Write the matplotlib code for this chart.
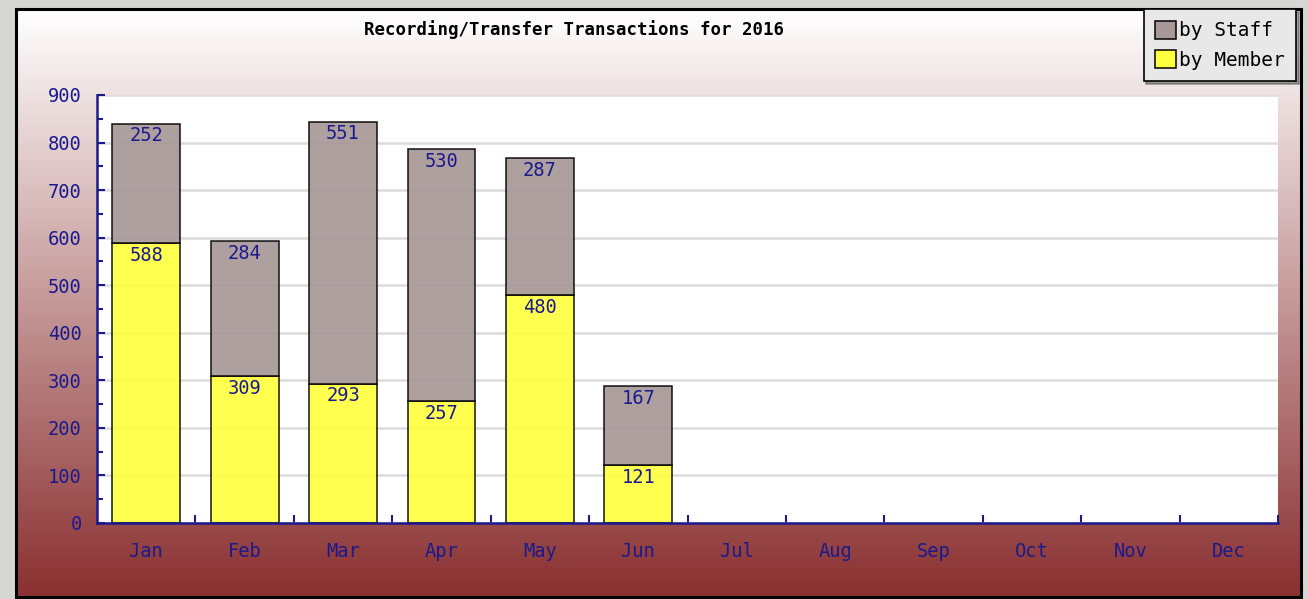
import matplotlib.pyplot as plt
import numpy as np
from matplotlib.colors import LinearSegmentedColormap
from matplotlib.patches import Rectangle

months = ["Jan", "Feb", "Mar", "Apr", "May", "Jun",
          "Jul", "Aug", "Sep", "Oct", "Nov", "Dec"]
by_member = [588, 309, 293, 257, 480, 121]
by_staff = [252, 284, 551, 530, 287, 167]
title = "Recording/Transfer Transactions for 2016"

W, H = 1307, 599
NAVY = "#1a1a8c"
STAFF = "#a89898"
MEMBER = "#ffff40"
MONO = "DejaVu Sans Mono"


def fx(px):
    return px / W


def fy(py):
    return 1 - py / H


def main():
    fig = plt.figure(figsize=(W / 100, H / 100), dpi=100)
    fig.patch.set_facecolor("#d6d6d4")

    # gradient frame
    left, right, top, bottom = 16, 1301, 9, 597
    bg = fig.add_axes([fx(left), fy(bottom), fx(right - left), (bottom - top) / H])
    cmap = LinearSegmentedColormap.from_list("bg", ["#ffffff", "#8a3030"])
    grad = np.linspace(0, 1, 256).reshape(-1, 1)
    bg.imshow(grad, aspect="auto", cmap=cmap, extent=[0, 1, 0, 1], origin="upper")
    bg.add_patch(Rectangle((0, 0), 1, 1, transform=bg.transAxes, fill=False,
                           edgecolor="black", linewidth=2.2, clip_on=False))
    bg.set_axis_off()

    # plot area
    pl, pr, pt, pb = 97, 1278, 95, 523
    ax = fig.add_axes([fx(pl), fy(pb), fx(pr - pl), (pb - pt) / H])
    ax.set_facecolor("white")

    x = np.arange(len(by_member))
    ax.bar(x, by_member, width=0.69, color=MEMBER, edgecolor="black",
           linewidth=1.1, alpha=0.92, zorder=2, label="by Member")
    ax.bar(x, by_staff, width=0.69, bottom=by_member, color=STAFF,
           edgecolor="black", linewidth=1.1, alpha=0.92, zorder=2, label="by Staff")

    for i in x:
        ax.annotate(str(by_member[i]), (i, by_member[i]), xytext=(0, -2),
                    textcoords="offset points", ha="center", va="top",
                    color=NAVY, fontsize=13.5, family=MONO, zorder=3)
        ax.annotate(str(by_staff[i]), (i, by_member[i] + by_staff[i]), xytext=(0, -2),
                    textcoords="offset points", ha="center", va="top",
                    color=NAVY, fontsize=13.5, family=MONO, zorder=3)

    ax.set_xlim(-0.5, 11.5)
    ax.set_ylim(0, 900)
    ax.set_yticks(range(0, 901, 100))
    ax.set_yticks(range(50, 900, 100), minor=True)
    ax.set_xticks(range(12))
    ax.set_xticklabels(months)
    ax.set_xticks(np.arange(0.5, 12, 1), minor=True)
    ax.yaxis.grid(True, color="#dcdcdc", linewidth=1.8, zorder=1)
    ax.set_axisbelow(True)

    for s in ["top", "right"]:
        ax.spines[s].set_visible(False)
    for s in ["left", "bottom"]:
        ax.spines[s].set_color(NAVY)
        ax.spines[s].set_linewidth(1.8)
        ax.spines[s].set_zorder(4)

    ax.tick_params(axis="y", which="major", direction="in", length=6, width=1.5,
                   color=NAVY, labelcolor=NAVY, labelsize=13.5, pad=11)
    ax.tick_params(axis="y", which="minor", direction="in", length=4, width=1.5, color=NAVY)
    ax.tick_params(axis="x", which="major", length=0, labelcolor=NAVY,
                   labelsize=13.5, pad=14)
    ax.tick_params(axis="x", which="minor", direction="in", length=6, width=1.5, color=NAVY)
    for lab in ax.get_xticklabels() + ax.get_yticklabels():
        lab.set_family(MONO)

    fig.text(fx(574), fy(30), title, ha="center", va="center",
             fontsize=12.5, fontweight="bold", family=MONO, color="black")

    handles, labels = ax.get_legend_handles_labels()
    leg = fig.legend(handles[::-1], labels[::-1], loc="upper right",
                     bbox_to_anchor=(fx(1296), fy(9)), fancybox=False, shadow=True,
                     facecolor="#e8e8e8", edgecolor="black", framealpha=1,
                     prop={"family": MONO, "size": 14}, handlelength=1.05,
                     handleheight=1.05, handletextpad=0.15, borderpad=0.6,
                     labelspacing=0.5, borderaxespad=0)
    leg.get_frame().set_linewidth(1.2)
    for h in leg.legend_handles:
        h.set_alpha(1)

    plt.savefig("out.png", dpi=100, facecolor=fig.get_facecolor())


if __name__ == "__main__":
    main()
